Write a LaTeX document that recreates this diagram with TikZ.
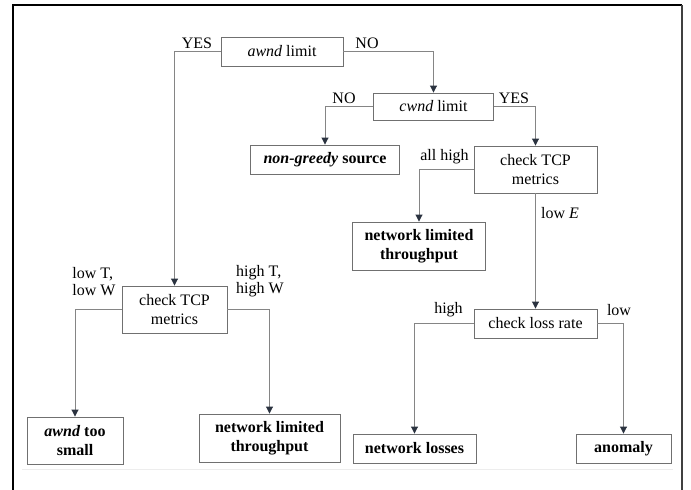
\documentclass[tikz,border=0pt]{standalone}
\usepackage{fontspec}
\setmainfont{Liberation Serif}
\usetikzlibrary{arrows.meta}
\definecolor{boxc}{HTML}{707070}
\definecolor{linec}{HTML}{858585}
\definecolor{tipc}{HTML}{2B3340}
\tikzset{
  box/.style={draw=boxc, line width=0.9pt, inner sep=0pt, align=center,
    font=\fontsize{16}{18.5}\selectfont},
  bbox/.style={box, font=\fontsize{16}{18.5}\selectfont\bfseries},
  link/.style={draw=linec, line width=0.9pt,
    -{Triangle[width=7pt,length=7pt,color=tipc]}},
  lbl/.style={inner sep=0pt, font=\fontsize{16}{17}\selectfont},
}
\begin{document}
\begin{tikzpicture}[x=1pt,y=-1pt]
\useasboundingbox (0,0) rectangle (691,490);
% outer frame, open at the bottom
\draw[black, line width=1.3pt] (13,490) -- (13,5) -- (682,5);
\draw[black!75, line width=1.3pt] (682,5) -- (682,490);
\draw[black!7, line width=0.8pt] (22,469) -- (673,469);

% decision and result boxes
\node[box, minimum width=122pt, minimum height=29pt] (awnd) at (282,51.5) {\textit{awnd} limit};
\node[box, minimum width=120pt, minimum height=27pt] (cwnd) at (433.5,106.5) {\textit{cwnd} limit};
\node[bbox, minimum width=149pt, minimum height=29pt] (greedy) at (325,159.5) {\textit{non-greedy} source};
\node[box, minimum width=123pt, minimum height=47pt] (tcpR) at (535.5,169.5) {check TCP\\metrics};
\node[bbox, minimum width=133pt, minimum height=48pt] (nltU) at (419,246) {network limited\\throughput};
\node[box, minimum width=123pt, minimum height=29pt] (loss) at (535.5,323.5) {check loss rate};
\node[bbox, minimum width=123pt, minimum height=29pt] (nloss) at (414.5,448.5) {network losses};
\node[bbox, minimum width=95pt, minimum height=29pt] (anom) at (623.5,448.5) {anomaly};
\node[box, minimum width=105pt, minimum height=47pt] (tcpL) at (174.5,309.5) {check TCP\\metrics};
\node[bbox, minimum width=96pt, minimum height=47pt] (small) at (75,440.5) {\textit{awnd} too\\small};
\node[bbox, minimum width=141pt, minimum height=48pt] (nltL) at (269.5,438) {network limited\\throughput};

% connectors
\draw[link] (awnd.west) -| (tcpL.north);
\draw[link] (awnd.east) -| (cwnd.north);
\draw[link] (cwnd.west) -| (greedy.north);
\draw[link] (cwnd.east) -| (tcpR.north);
\draw[link] (tcpR.west) -| (nltU.north);
\draw[link] (tcpR.south) -- (loss.north);
\draw[link] (loss.west) -| (nloss.north);
\draw[link] (loss.east) -| (anom.north);
\draw[link] (tcpL.west) -| (small.north);
\draw[link] (tcpL.east) -| (nltL.north);

% branch labels
\node[lbl] (l1) at (197,43) {YES};
\node[lbl] (l2) at (367,43) {NO};
\node[lbl] (l3) at (344,98) {NO};
\node[lbl] (l4) at (514,98) {YES};
\node[lbl] (l5) at (444.5,157) {all high};
\node[lbl] (l6) at (560,213) {low \textit{E}};
\node[lbl] (l7) at (448.5,310) {high};
\node[lbl] (l8) at (619,310) {low};
\node[lbl, align=left] (l9) at (94,281.5) {low T,\\low W};
\node[lbl, align=left] (l10) at (260,281.5) {high T,\\high W};
\end{tikzpicture}
\end{document}
